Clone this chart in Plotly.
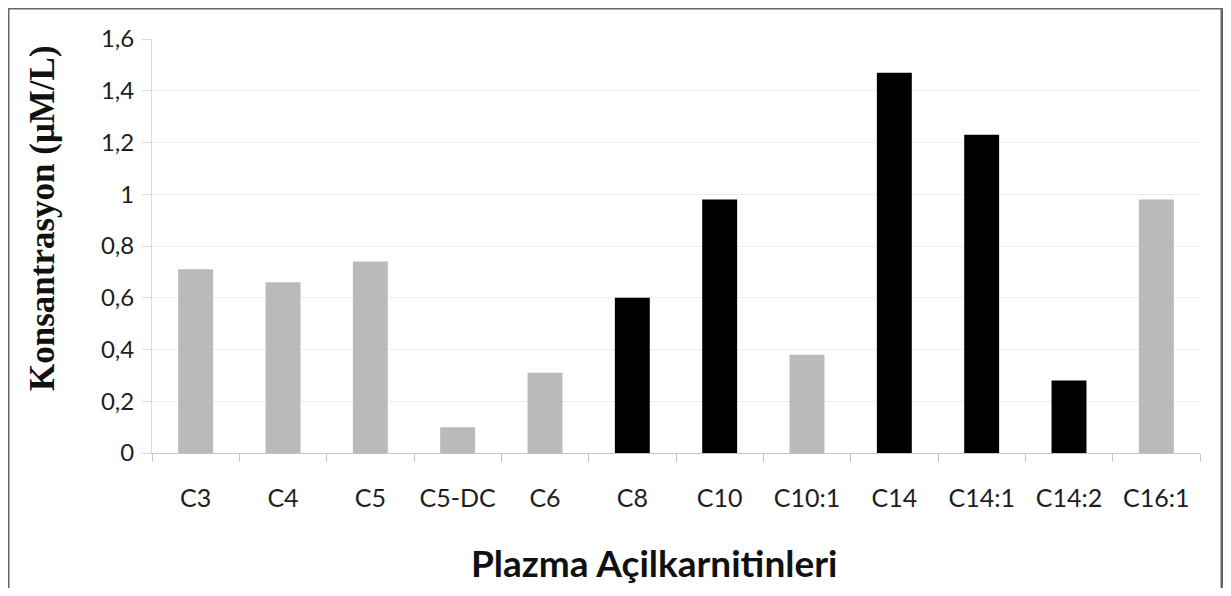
import plotly.graph_objects as go

categories = ["C3", "C4", "C5", "C5-DC", "C6", "C8", "C10", "C10:1", "C14", "C14:1", "C14:2", "C16:1"]
values = [0.71, 0.66, 0.74, 0.10, 0.31, 0.60, 0.98, 0.38, 1.47, 1.23, 0.28, 0.98]
elevated = [0, 0, 0, 0, 0, 1, 1, 0, 1, 1, 1, 0]

y_ticks = [0, 0.2, 0.4, 0.6, 0.8, 1.0, 1.2, 1.4, 1.6]
y_title = "Konsantrasyon (μM/L)"
x_title = "Plazma Açilkarnitinleri"

GRAY = "#bababa"
BLACK = "#000000"
colors = [BLACK if e else GRAY for e in elevated]

# page body has an 8px margin; the figure is sized to fit inside it
W, H = 1215, 580
L, R, T, B = 144, 23, 31, 135
pw, ph = W - L - R, H - T - B

def px2x(px):
    return (px - L) / pw

def px2y(py):
    return (H - B - py) / ph

fig = go.Figure(go.Bar(
    x=categories, y=values,
    marker=dict(color=colors, line=dict(width=0)),
    width=0.4,
))

fig.update_layout(
    width=W, height=H,
    margin=dict(l=L, r=R, t=T, b=B),
    paper_bgcolor="white", plot_bgcolor="white",
    separators=", ",
    showlegend=False,
    bargap=0.6,
    font=dict(family="Lato", color="#333333"),
)

fig.update_xaxes(
    type="category",
    showline=True, linecolor="#c4c4c4", linewidth=1,
    ticks="outside", tickson="boundaries", ticklen=8, tickcolor="#c4c4c4",
    tickfont=dict(family="Lato", size=25, color="#1e1e1e"),
    ticklabelstandoff=23,
    showgrid=False,
)

fig.update_yaxes(
    range=[0, 1.6],
    tickvals=y_ticks,
    showline=True, linecolor="#d9d9d9", linewidth=1,
    ticks="outside", ticklen=9, tickcolor="#d9d9d9",
    tickfont=dict(family="Lato", size=24, color="#1e1e1e"),
    ticklabelstandoff=3,
    showgrid=True, gridcolor="#ececec", gridwidth=1,
    zeroline=False,
)

fig.add_annotation(
    text=y_title, textangle=-90,
    xref="paper", yref="paper", x=px2x(34), y=px2y(210),
    showarrow=False, xanchor="center", yanchor="middle",
    font=dict(family="Liberation Serif", size=35, color="#111111", weight="bold"),
)
fig.add_annotation(
    text=x_title,
    xref="paper", yref="paper", x=px2x(646), y=px2y(554),
    showarrow=False, xanchor="center", yanchor="middle",
    font=dict(family="Lato", size=37, color="#111111", weight="bold"),
)

fig.add_shape(
    type="rect", xref="paper", yref="paper",
    x0=px2x(0), x1=px2x(W - 1), y0=px2y(H + 20), y1=px2y(0),
    line=dict(color="#666666", width=3), fillcolor="rgba(0,0,0,0)",
    layer="above",
)

fig.write_html("out.html")
